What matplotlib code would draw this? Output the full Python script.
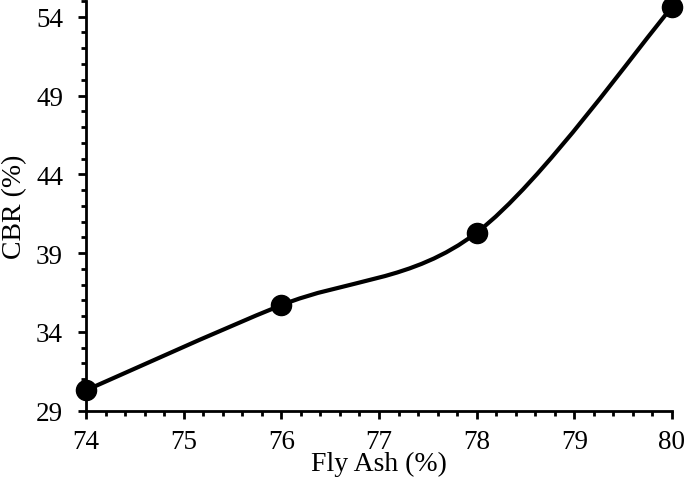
import numpy as np
import matplotlib
matplotlib.use("Agg")
import matplotlib.pyplot as plt
from matplotlib.path import Path
from matplotlib.patches import PathPatch
from matplotlib.ticker import MultipleLocator

fly_ash = [74, 76, 78, 80]
cbr     = [30.3, 35.7, 40.3, 54.6]

plt.rcParams["font.family"] = ["Liberation Serif", "DejaVu Serif"]

fig = plt.figure(figsize=(6.85, 4.85), dpi=100)
ax = fig.add_axes([0.1255, 0.151, 0.8555, 0.845])

# smoothed line (Catmull-Rom style bezier, like Excel's "smoothed line")
pts = np.column_stack([fly_ash, cbr]).astype(float)
verts, codes = [pts[0]], [Path.MOVETO]
for i in range(len(pts) - 1):
    p0 = pts[max(i - 1, 0)]
    p1, p2 = pts[i], pts[i + 1]
    p3 = pts[min(i + 2, len(pts) - 1)]
    c1 = p1 + (p2 - p0) / 6
    c2 = p2 - (p3 - p1) / 6
    verts += [c1, c2, p2]
    codes += [Path.CURVE4] * 3
ax.add_patch(PathPatch(Path(verts, codes), facecolor="none", edgecolor="black",
                       lw=3, capstyle="round", joinstyle="round", zorder=2))
ax.plot(fly_ash, cbr, ls="none", marker="o", ms=14.5, color="black", zorder=3,
        clip_on=False)

ax.set_xlim(74, 80)
ax.set_ylim(29, 55)
ax.xaxis.set_major_locator(MultipleLocator(1))
ax.xaxis.set_minor_locator(MultipleLocator(0.2))
ax.set_yticks([29, 34, 39, 44, 49, 54])
ax.yaxis.set_minor_locator(MultipleLocator(1))

ax.spines["top"].set_visible(False)
ax.spines["right"].set_visible(False)
for s in ["left", "bottom"]:
    ax.spines[s].set_linewidth(2)
ax.tick_params(which="major", direction="out", length=6, width=2, labelsize=19.5)
ax.tick_params(which="minor", direction="out", length=3.8, width=2)
ax.tick_params(axis="x", which="major", pad=7)
ax.tick_params(axis="y", which="major", pad=10.5)

ax.set_xlabel("Fly Ash (%)", fontsize=20)
ax.set_ylabel("CBR (%)", fontsize=20)
ax.xaxis.set_label_coords(0.5, -0.097)
ax.yaxis.set_label_coords(-0.100, 0.5)

fig.savefig("out.png", dpi=100)
